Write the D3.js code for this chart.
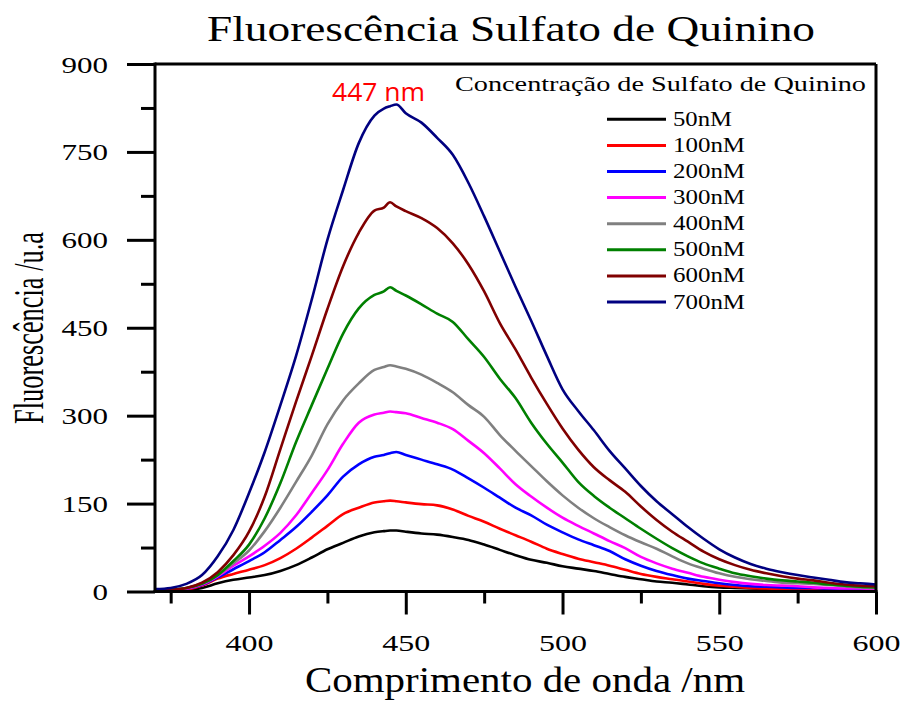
<!DOCTYPE html>
<html><head><meta charset="utf-8">
<script src="https://cdn.jsdelivr.net/npm/d3@7"></script>
<style>body{margin:0;background:#fff}svg{display:block}</style>
</head><body>
<svg id="c" width="907" height="701"></svg>
<script>
// ---- data ----
const wavelengths = [370,375,380,385,390,395,400,405,410,415,420,425,430,435,440,443,445,447,450,455,460,465,470,475,480,485,490,495,500,505,510,515,520,525,530,535,540,545,550,555,560,565,570,575,580,585,590,595,600];
const s50nM  = [1,1,2,6,14,20,24,28,35,45,58,72,83,94,101,103,104,104,102,99,97,93,88,80,71,62,54,49,43,39,35,30,25,21,17,15,12,9,7,6,5,4,3,3,2,2,1,1,1];
const s100nM = [1,1,3,10,22,30,37,45,57,73,92,112,132,143,152,154,155,154,152,149,147,140,129,119,107,96,85,73,64,56,50,44,37,30,25,21,17,13,10,8,6,5,4,3,2,2,2,2,1];
const s200nM = [1,2,5,11,24,38,52,67,88,110,136,164,196,217,230,233,236,238,233,225,217,208,193,177,160,143,130,114,101,89,79,69,55,44,35,28,22,18,14,11,9,8,7,6,6,5,4,3,3];
const s300nM = [1,2,5,12,26,44,60,78,100,130,168,207,252,288,302,305,307,306,304,296,288,277,257,236,210,183,162,143,126,112,99,86,74,59,48,39,32,25,20,16,13,11,10,9,7,6,5,5,4];
const s400nM = [2,3,6,14,28,48,70,103,143,187,232,285,326,355,378,383,386,384,380,370,356,340,318,298,267,240,214,188,164,143,125,110,96,84,73,60,48,39,31,25,21,18,15,14,13,11,9,7,6];
const s500nM = [2,3,6,13,28,52,80,125,185,255,318,380,440,483,506,512,519,513,505,490,474,460,430,400,363,330,288,252,220,187,163,143,125,107,90,74,60,48,39,31,26,22,19,17,15,12,10,8,7];
const s600nM = [2,3,6,15,33,62,102,162,243,324,402,482,555,612,650,655,664,657,649,637,620,594,558,512,458,413,365,320,278,242,212,190,170,145,122,102,85,68,55,45,37,31,26,22,19,15,12,10,9];
const s700nM = [4,6,13,28,60,105,168,238,318,402,498,600,685,765,812,824,828,831,816,800,774,745,697,640,580,520,462,402,345,308,275,240,210,180,154,132,110,90,72,58,47,39,33,28,24,20,16,14,12];
const seriesNames = ["50nM","100nM","200nM","300nM","400nM","500nM","600nM","700nM"];
const seriesColors = ["#000000","#ff0000","#0000ff","#ff00ff","#808080","#008000","#800000","#000080"];
const xTicks = [400,450,500,550,600];
const xMinorTicks = [375,425,475,525,575];
const yTicks = [0,150,300,450,600,750,900];
const yMinorTicks = [75,225,375,525,675,825];
const peakLabel = "447 nm";
const titleText = "Fluorescência Sulfato de Quinino";
const xTitle = "Comprimento de onda /nm";
const yTitle = "Fluorescência /u.a";
const legendTitle = "Concentração de Sulfato de Quinino";

const allSeries = [s50nM,s100nM,s200nM,s300nM,s400nM,s500nM,s600nM,s700nM];

// ---- layout ----
const L = 155, R = 876, T = 64, B = 591.5;
const serif = "'Liberation Serif','Times New Roman',serif";
const svg = d3.select("#c");
svg.append("rect").attr("width",907).attr("height",701).attr("fill","#fff");

const x = d3.scaleLinear().domain([370,600]).range([L,R]);
const y = d3.scaleLinear().domain([0,900]).range([B,T]);

// curves
const line = d3.line().x((d,i)=>x(wavelengths[i])).y(d=>y(d)).curve(d3.curveMonotoneX);
svg.append("g").selectAll("path").data(allSeries).join("path")
  .attr("d", d=>line(d))
  .attr("fill","none")
  .attr("stroke",(d,i)=>seriesColors[i])
  .attr("stroke-width",2.6)
  .attr("stroke-linejoin","round");

// frame (top + right)
svg.append("line").attr("x1",L).attr("x2",R).attr("y1",T).attr("y2",T).attr("stroke","#000").attr("stroke-width",3);
svg.append("line").attr("x1",R).attr("x2",R).attr("y1",T).attr("y2",B).attr("stroke","#000").attr("stroke-width",3);

// x axis
const gx = svg.append("g").attr("transform",`translate(0,${B})`)
  .call(d3.axisBottom(x).tickValues(xTicks).tickSize(23).tickSizeOuter(0).tickFormat(d3.format("d")));
const gxm = svg.append("g").attr("transform",`translate(0,${B})`)
  .call(d3.axisBottom(x).tickValues(xMinorTicks).tickSize(12).tickSizeOuter(0).tickFormat(""));
gxm.select(".domain").remove();
[gx,gxm].forEach(g=>{
  g.select(".domain").attr("stroke-width",3).attr("d",`M${L-1.5},0H${R+1.5}`);
  g.selectAll(".tick line").attr("stroke-width",3);
});
gx.selectAll(".tick text").attr("y",59).attr("dy",0)
  .attr("font-family",serif).attr("font-size",23.5).attr("fill","#000")
  .attr("textLength",48).attr("lengthAdjust","spacingAndGlyphs");

// y axis
const gy = svg.append("g").attr("transform",`translate(${L},0)`)
  .call(d3.axisLeft(y).tickValues(yTicks).tickSize(28).tickSizeOuter(0).tickFormat(d3.format("d")));
const gym = svg.append("g").attr("transform",`translate(${L},0)`)
  .call(d3.axisLeft(y).tickValues(yMinorTicks).tickSize(14).tickSizeOuter(0).tickFormat(""));
gym.select(".domain").remove();
[gy,gym].forEach(g=>{
  g.select(".domain").attr("stroke-width",3).attr("d",`M0,${T-1.5}V${B+1.5}`);
  g.selectAll(".tick line").attr("stroke-width",3);
});
gy.selectAll(".tick text").attr("x",-47).attr("dy","0.34em")
  .attr("font-family",serif).attr("font-size",23.5).attr("fill","#000")
  .attr("textLength",d=>String(d).length*15.5).attr("lengthAdjust","spacingAndGlyphs");

// titles
svg.append("text").attr("x",207).attr("y",41).text(titleText)
  .attr("font-family",serif).attr("font-size",36).attr("fill","#000")
  .attr("textLength",608).attr("lengthAdjust","spacingAndGlyphs");
svg.append("text").attr("x",305).attr("y",692).text(xTitle)
  .attr("font-family",serif).attr("font-size",35).attr("fill","#000")
  .attr("textLength",440).attr("lengthAdjust","spacingAndGlyphs");
svg.append("text").attr("transform","translate(43,424) rotate(-90)").text(yTitle)
  .attr("font-family",serif).attr("font-size",43).attr("fill","#000")
  .attr("textLength",192).attr("lengthAdjust","spacingAndGlyphs");

// peak label
svg.append("text").attr("x",332).attr("y",101).text(peakLabel)
  .attr("font-family","'Open Sans','Liberation Sans',Arial,sans-serif").attr("font-size",26).attr("fill","#ff0000")
  .attr("textLength",93).attr("lengthAdjust","spacingAndGlyphs");

// legend
svg.append("text").attr("x",455).attr("y",91).text(legendTitle)
  .attr("font-family",serif).attr("font-size",22).attr("fill","#000")
  .attr("textLength",411).attr("lengthAdjust","spacingAndGlyphs");
const lg = svg.append("g").selectAll("g").data(seriesNames).join("g")
  .attr("transform",(d,i)=>`translate(0,${119.3+i*26.1})`);
lg.append("line").attr("x1",607).attr("x2",666).attr("y1",0).attr("y2",0)
  .attr("stroke",(d,i)=>seriesColors[i]).attr("stroke-width",3);
lg.append("text").attr("x",673).attr("y",6.5).text(d=>d)
  .attr("font-family",serif).attr("font-size",20.5).attr("fill","#000")
  .attr("textLength",d=>d.length===4?59:72).attr("lengthAdjust","spacingAndGlyphs");
</script>
</body></html>
